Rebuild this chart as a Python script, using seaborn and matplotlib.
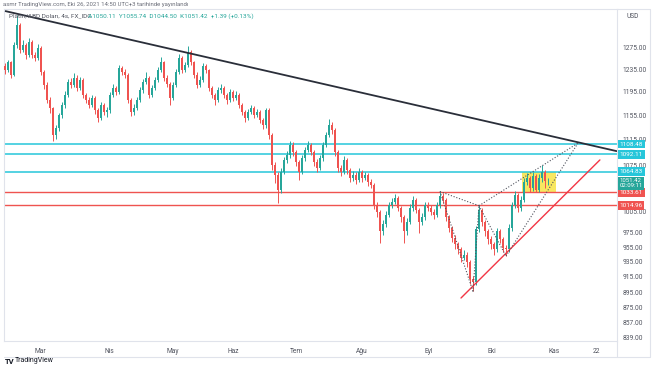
import numpy as np
import pandas as pd
import matplotlib
matplotlib.use("Agg")
import matplotlib.pyplot as plt
import matplotlib.transforms as mtransforms
from matplotlib.lines import Line2D
from matplotlib.patches import Rectangle
from matplotlib.ticker import FixedLocator, FuncFormatter, NullLocator
import seaborn as sns

# ---------------- data (Platin/ABD Doları, 4s) ----------------
first_open = 1240
closes = [
    1233, 1247, 1225, 1279, 1316, 1270, 1279, 1260, 1284, 1260,
    1255, 1273, 1230, 1207, 1181, 1168, 1123, 1134, 1156, 1173,
    1190, 1212, 1207, 1219, 1202, 1216, 1190, 1181, 1173, 1185,
    1164, 1151, 1173, 1161, 1164, 1190, 1202, 1195, 1237, 1230,
    1225, 1181, 1161, 1168, 1181, 1198, 1212, 1219, 1190, 1202,
    1216, 1233, 1247, 1219, 1209, 1185, 1207, 1230, 1255, 1233,
    1242, 1266, 1247, 1225, 1207, 1216, 1241, 1233, 1202, 1190,
    1181, 1198, 1202, 1190, 1181, 1195, 1185, 1190, 1173, 1161,
    1151, 1161, 1168, 1156, 1161, 1148, 1139, 1164, 1123, 1076,
    1060, 1038, 1065, 1083, 1091, 1107, 1096, 1080, 1065, 1086,
    1099, 1107, 1096, 1080, 1071, 1086, 1107, 1123, 1139, 1131,
    1096, 1071, 1065, 1083, 1068, 1056, 1060, 1053, 1065, 1056,
    1060, 1050, 1045, 1015, 1005, 977, 987, 1001, 1015, 1020,
    1026, 1011, 997, 977, 991, 1011, 1023, 1008, 991, 997,
    1015, 1011, 1005, 1001, 1015, 1029, 1023, 997, 982, 968,
    959, 952, 941, 945, 935, 912, 908, 980, 1008, 991,
    977, 966, 959, 952, 977, 966, 954, 952, 982, 1015,
    1030, 1011, 1023, 1050, 1056, 1040, 1059, 1038, 1056, 1065,
    1050.11, 1051.42]
highs = [
    1246, 1252, 1250, 1284, 1336, 1320, 1288, 1283, 1292, 1288,
    1266, 1280, 1276, 1234, 1212, 1186, 1170, 1140, 1160, 1178,
    1196, 1218, 1220, 1228, 1224, 1221, 1219, 1194, 1186, 1190,
    1188, 1168, 1177, 1176, 1170, 1195, 1208, 1206, 1242, 1241,
    1236, 1228, 1184, 1174, 1186, 1203, 1218, 1230, 1222, 1207,
    1221, 1238, 1256, 1250, 1224, 1212, 1212, 1235, 1262, 1258,
    1248, 1276, 1270, 1250, 1229, 1222, 1246, 1245, 1236, 1206,
    1194, 1203, 1208, 1206, 1194, 1200, 1198, 1196, 1193, 1176,
    1165, 1166, 1173, 1171, 1166, 1164, 1151, 1168, 1167, 1126,
    1080, 1064, 1070, 1088, 1097, 1114, 1111, 1099, 1083, 1091,
    1104, 1114, 1110, 1099, 1084, 1091, 1112, 1128, 1150, 1145,
    1134, 1099, 1076, 1089, 1086, 1071, 1066, 1064, 1070, 1068,
    1065, 1063, 1054, 1048, 1019, 1008, 993, 1006, 1020, 1026,
    1032, 1029, 1014, 1000, 996, 1016, 1029, 1026, 1011, 1003,
    1020, 1019, 1015, 1009, 1020, 1035, 1033, 1026, 1000, 985,
    972, 963, 955, 951, 948, 938, 916, 985, 1014, 1011,
    994, 980, 970, 962, 982, 980, 969, 958, 987, 1020,
    1036, 1033, 1028, 1055, 1063, 1059, 1064, 1062, 1061, 1075,
    1068, 1055.74]
lows = [
    1226, 1229, 1220, 1222, 1274, 1264, 1265, 1254, 1256, 1255,
    1249, 1251, 1224, 1200, 1176, 1160, 1114, 1117, 1130, 1151,
    1168, 1186, 1201, 1203, 1196, 1198, 1185, 1176, 1167, 1169,
    1158, 1144, 1148, 1156, 1152, 1160, 1186, 1190, 1192, 1224,
    1219, 1176, 1154, 1156, 1164, 1177, 1194, 1208, 1184, 1186,
    1198, 1212, 1229, 1214, 1203, 1172, 1181, 1203, 1226, 1228,
    1229, 1238, 1242, 1219, 1201, 1203, 1212, 1228, 1196, 1185,
    1172, 1177, 1193, 1184, 1175, 1177, 1180, 1181, 1168, 1156,
    1144, 1147, 1157, 1151, 1152, 1142, 1133, 1135, 1117, 1068,
    1048, 1018, 1033, 1061, 1078, 1087, 1090, 1074, 1053, 1061,
    1082, 1095, 1091, 1074, 1065, 1067, 1082, 1103, 1119, 1125,
    1090, 1064, 1059, 1061, 1062, 1050, 1051, 1047, 1049, 1050,
    1052, 1044, 1040, 1009, 998, 961, 972, 983, 997, 1011,
    1016, 1006, 991, 961, 972, 987, 1007, 1003, 975, 986,
    993, 1006, 1000, 995, 997, 1011, 1018, 992, 976, 962,
    953, 946, 935, 937, 928, 906, 896, 904, 976, 985,
    971, 960, 953, 944, 948, 961, 948, 943, 948, 978,
    1011, 1005, 1006, 1019, 1045, 1035, 1036, 1034, 1034, 1050,
    1040, 1044.50]

month_labels = ["Mar", "Nis", "May", "Haz", "Tem", "Ağu", "Eyl", "Eki", "Kas", "22"]
month_pos = [11.7, 34.7, 56.0, 76.0, 97.3, 119.0, 141.3, 162.3, 183.0, 197.0]
price_ticks = [1275, 1235, 1195, 1155, 1115, 1075, 1005, 975, 955, 935, 915, 895, 875, 857, 839]

cyan_levels = [1108.48, 1092.11, 1064.83]
red_levels = [1033.61, 1014.96]
last_price = 1051.42
countdown = "02:09:11"

# drawings
black_trend_x = [0, 204]
black_trend_y = [1343, 1097]
red_trend_x = [152, 198.3]
red_trend_y = [887.6, 1083.3]
pattern_x = [145, 156, 158, 167, 191]          # X, A, B, C, D
pattern_y = [highs[145], lows[156], highs[158], lows[167], 1110]
box_x = [172.3, 183.7]
box_y = [1033.61, 1064.83]

header1 = "asmr TradingView.com, Eki 26, 2021 14:50 UTC+3 tarihinde yayınlandı"
header2a = "Platin/ABD Doları, 4s, FX_IDC"
header2b = "A1050.11  Y1055.74  D1044.50  K1051.42  +1.39 (+0.13%)"

# ---------------- figure ----------------
sns.set_theme(style="white")
plt.rcParams['font.family'] = ['Roboto', 'DejaVu Sans']

W, H = 654, 366
fig = plt.figure(figsize=(W / 100, H / 100), dpi=100)
fig.patch.set_facecolor("white")
L, R, T, B = 4, 617, 9, 341
ax = fig.add_axes([L / W, 1 - B / H, (R - L) / W, (B - T) / H])
ax.set_facecolor("white")
ax.set_yscale("log")

opens = [first_open] + closes[:-1]
df = pd.DataFrame(dict(i=np.arange(len(closes)), o=opens, h=highs, l=lows, c=closes))
up_col, dn_col = "#26a69a", "#ef5350"
cols = np.where(df.c >= df.o, up_col, dn_col)
ax.vlines(df.i, df.l, df.h, colors=cols, lw=0.7, zorder=4)
body_lo = np.minimum(df.o, df.c)
body_h = np.maximum((df.c - df.o).abs(), 0.9)
ax.bar(df.i, body_h, bottom=body_lo, width=0.62, color=cols, linewidth=0, zorder=5)

# horizontal levels
for v in cyan_levels:
    ax.axhline(v, color="#26c6da", lw=1.1, zorder=2)
for v in red_levels:
    ax.axhline(v, color="#ef5350", lw=1.0, zorder=2)

# yellow box
ax.add_patch(Rectangle((box_x[0], box_y[0]), box_x[1] - box_x[0], box_y[1] - box_y[0],
                       facecolor="#f8e550", edgecolor="none", alpha=0.9, zorder=1))

# trend lines
ax.plot(black_trend_x, black_trend_y, color="#2a2e39", lw=1.3, zorder=6, solid_capstyle="butt")
ax.plot(red_trend_x, red_trend_y, color="#f23645", lw=1.0, zorder=6)

# pattern dotted lines
segs = [(0, 1), (1, 2), (2, 3), (3, 4), (0, 2), (2, 4)]
for a, b in segs:
    seg = pd.DataFrame({"x": [pattern_x[a], pattern_x[b]], "y": [pattern_y[a], pattern_y[b]]})
    sns.lineplot(data=seg, x="x", y="y", sort=False, ax=ax, color="#50535e", lw=0.8,
                 linestyle=(0, (1, 1.6)), zorder=7)

ax.set_xlim(-0.33, 204)
ax.set_ylim(834.2, 1346.9)
ax.set_xlabel("")
ax.set_ylabel("")

# axes / ticks
ax.yaxis.tick_right()
ax.yaxis.set_major_locator(FixedLocator(price_ticks))
ax.yaxis.set_major_formatter(FuncFormatter(lambda v, p: f"{v:.2f}"))
ax.yaxis.set_minor_locator(NullLocator())
ax.tick_params(axis="y", length=0, pad=4, labelsize=4.8, labelcolor="#50535e")
ax.set_xticks(month_pos)
ax.set_xticklabels(month_labels)
ax.tick_params(axis="x", length=0, pad=5, labelsize=4.8, labelcolor="#50535e")
for s in ax.spines.values():
    s.set_color("#e0e3eb")
    s.set_linewidth(0.8)

# price-axis labels
trans = mtransforms.blended_transform_factory(ax.transAxes, ax.transData)
def tag(v, txt, fc, fs=4.6, pad=0.3):
    ax.text(1.004, v, txt, transform=trans, ha="left", va="center", fontsize=fs,
            color="white", zorder=10, clip_on=False, linespacing=1.0,
            bbox=dict(boxstyle=f"square,pad={pad}", fc=fc, ec="none"))
for v in cyan_levels:
    tag(v, f"{v:.2f}", "#26c6da")
for v in red_levels:
    tag(v, f"{v:.2f}", "#ef5350")
tag(last_price * 0.996, f"{last_price:.2f}\n{countdown}", up_col, fs=4.3, pad=0.25)
fig.text(633 / W, 1 - 17 / H, "USD", fontsize=4.8, color="#50535e", ha="center", va="center")

# outer frame lines
for (x0, y0, x1, y1) in [(R, 341, R, 357), (L, 357, 650, 357), (650, T, 650, 357), (R, T, 650, T)]:
    fig.add_artist(Line2D([x0 / W, x1 / W], [1 - y0 / H, 1 - y1 / H], color="#e0e3eb", lw=0.8))

# header texts
fig.text(3 / W, 1 - 4.5 / H, header1, fontsize=4.3, color="#6a6d78", ha="left", va="center")
fig.text(9 / W, 1 - 16 / H, header2a, fontsize=4.6, color="#50535e", ha="left", va="center", zorder=8)
fig.text(88 / W, 1 - 16 / H, header2b, fontsize=4.6, color="#26a69a", ha="left", va="center", zorder=8)

# logo
fig.text(5 / W, 1 - 361 / H, "TV", fontsize=5.5, weight="bold", color="#131722", ha="left", va="center")
fig.text(15 / W, 1 - 361 / H, "TradingView", fontsize=5, color="#131722", ha="left", va="center")

fig.savefig("out.png", dpi=100)
